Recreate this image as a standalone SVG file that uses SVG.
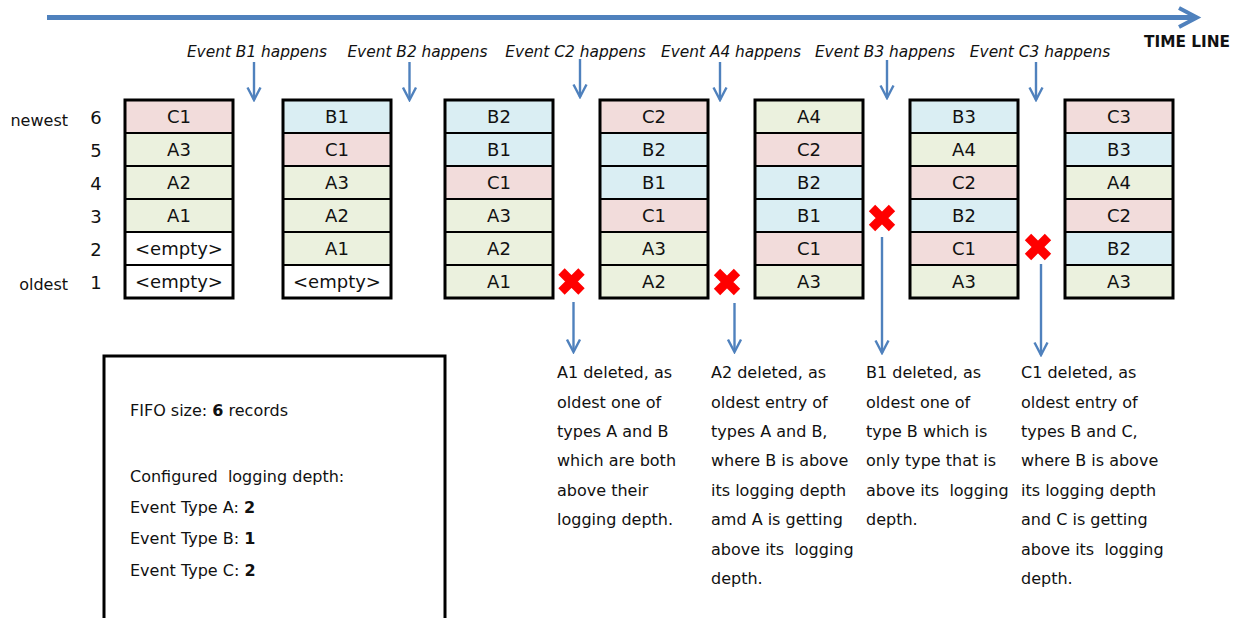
<svg xmlns="http://www.w3.org/2000/svg" width="1240" height="618" viewBox="0 0 1240 618">
<defs>
<marker id="arr" viewBox="0 0 16 16" refX="14" refY="8" markerWidth="16" markerHeight="16" markerUnits="userSpaceOnUse" orient="auto">
<path d="M1.5,1.5 L14,8 L1.5,14.5" fill="none" stroke="#4f81bd" stroke-width="2.4"/>
</marker>
<g id="xmark"><path d="M-10,-10 L10,10 M-10,10 L10,-10" stroke="#ff0000" stroke-width="9"/></g>
</defs>
<style>
text{font-family:"DejaVu Sans","Liberation Sans",sans-serif;fill:#111;white-space:pre}
.ev{font-size:15.4px;font-style:italic;text-anchor:middle}
.cell{font-size:18px;text-anchor:middle}
.lbl{font-size:16px}
.num{font-size:18px;text-anchor:middle}
.body{font-size:16px}
.p{fill:#f2dcdb}.g{fill:#ebf1de}.b{fill:#daeef3}.w{fill:#ffffff}
.frame{fill:none;stroke:#000;stroke-width:3}
.div{stroke:#000;stroke-width:2}
.conn{stroke:#4f81bd;stroke-width:2.4;fill:none}
</style>

<g id="timeline">
<line x1="47" y1="17.5" x2="1195" y2="17.5" stroke="#4f81bd" stroke-width="5"/>
<polyline points="1179,8 1197,17.5 1179,27" fill="none" stroke="#4f81bd" stroke-width="4"/>
<text x="1187" y="47" font-size="16" font-weight="bold" text-anchor="middle" textLength="86" lengthAdjust="spacingAndGlyphs">TIME LINE</text>
</g>

<g id="event-labels">
<text class="ev" x="257" y="57">Event B1 happens</text>
<text class="ev" x="417.5" y="57">Event B2 happens</text>
<text class="ev" x="575.5" y="57">Event C2 happens</text>
<text class="ev" x="731" y="57">Event A4 happens</text>
<text class="ev" x="885" y="57">Event B3 happens</text>
<text class="ev" x="1040" y="57">Event C3 happens</text>
</g>

<g id="row-labels">
<text class="lbl" x="68" y="126" text-anchor="end">newest</text>
<text class="lbl" x="68" y="290" text-anchor="end">oldest</text>
<text class="num" x="96" y="124">6</text>
<text class="num" x="96" y="157">5</text>
<text class="num" x="96" y="190">4</text>
<text class="num" x="96" y="223">3</text>
<text class="num" x="96" y="256">2</text>
<text class="num" x="96" y="289">1</text>
</g>

<g id="fifo1" transform="translate(125,100)">
<rect class="p" x="0" y="0" width="108" height="33"/><rect class="g" x="0" y="33" width="108" height="33"/><rect class="g" x="0" y="66" width="108" height="33"/><rect class="g" x="0" y="99" width="108" height="33"/><rect class="w" x="0" y="132" width="108" height="33"/><rect class="w" x="0" y="165" width="108" height="33"/>
<path class="div" d="M0,33H108M0,66H108M0,99H108M0,132H108M0,165H108"/>
<rect class="frame" x="0" y="0" width="108" height="198"/>
<text class="cell" x="54" y="23">C1</text><text class="cell" x="54" y="56">A3</text><text class="cell" x="54" y="89">A2</text><text class="cell" x="54" y="122">A1</text><text class="cell" x="54" y="155">&lt;empty&gt;</text><text class="cell" x="54" y="188">&lt;empty&gt;</text>
</g>

<g id="fifo2" transform="translate(283,100)">
<rect class="b" x="0" y="0" width="108" height="33"/><rect class="p" x="0" y="33" width="108" height="33"/><rect class="g" x="0" y="66" width="108" height="33"/><rect class="g" x="0" y="99" width="108" height="33"/><rect class="g" x="0" y="132" width="108" height="33"/><rect class="w" x="0" y="165" width="108" height="33"/>
<path class="div" d="M0,33H108M0,66H108M0,99H108M0,132H108M0,165H108"/>
<rect class="frame" x="0" y="0" width="108" height="198"/>
<text class="cell" x="54" y="23">B1</text><text class="cell" x="54" y="56">C1</text><text class="cell" x="54" y="89">A3</text><text class="cell" x="54" y="122">A2</text><text class="cell" x="54" y="155">A1</text><text class="cell" x="54" y="188">&lt;empty&gt;</text>
</g>

<g id="fifo3" transform="translate(445,100)">
<rect class="b" x="0" y="0" width="108" height="33"/><rect class="b" x="0" y="33" width="108" height="33"/><rect class="p" x="0" y="66" width="108" height="33"/><rect class="g" x="0" y="99" width="108" height="33"/><rect class="g" x="0" y="132" width="108" height="33"/><rect class="g" x="0" y="165" width="108" height="33"/>
<path class="div" d="M0,33H108M0,66H108M0,99H108M0,132H108M0,165H108"/>
<rect class="frame" x="0" y="0" width="108" height="198"/>
<text class="cell" x="54" y="23">B2</text><text class="cell" x="54" y="56">B1</text><text class="cell" x="54" y="89">C1</text><text class="cell" x="54" y="122">A3</text><text class="cell" x="54" y="155">A2</text><text class="cell" x="54" y="188">A1</text>
</g>

<g id="fifo4" transform="translate(600,100)">
<rect class="p" x="0" y="0" width="108" height="33"/><rect class="b" x="0" y="33" width="108" height="33"/><rect class="b" x="0" y="66" width="108" height="33"/><rect class="p" x="0" y="99" width="108" height="33"/><rect class="g" x="0" y="132" width="108" height="33"/><rect class="g" x="0" y="165" width="108" height="33"/>
<path class="div" d="M0,33H108M0,66H108M0,99H108M0,132H108M0,165H108"/>
<rect class="frame" x="0" y="0" width="108" height="198"/>
<text class="cell" x="54" y="23">C2</text><text class="cell" x="54" y="56">B2</text><text class="cell" x="54" y="89">B1</text><text class="cell" x="54" y="122">C1</text><text class="cell" x="54" y="155">A3</text><text class="cell" x="54" y="188">A2</text>
</g>

<g id="fifo5" transform="translate(755,100)">
<rect class="g" x="0" y="0" width="108" height="33"/><rect class="p" x="0" y="33" width="108" height="33"/><rect class="b" x="0" y="66" width="108" height="33"/><rect class="b" x="0" y="99" width="108" height="33"/><rect class="p" x="0" y="132" width="108" height="33"/><rect class="g" x="0" y="165" width="108" height="33"/>
<path class="div" d="M0,33H108M0,66H108M0,99H108M0,132H108M0,165H108"/>
<rect class="frame" x="0" y="0" width="108" height="198"/>
<text class="cell" x="54" y="23">A4</text><text class="cell" x="54" y="56">C2</text><text class="cell" x="54" y="89">B2</text><text class="cell" x="54" y="122">B1</text><text class="cell" x="54" y="155">C1</text><text class="cell" x="54" y="188">A3</text>
</g>

<g id="fifo6" transform="translate(910,100)">
<rect class="b" x="0" y="0" width="108" height="33"/><rect class="g" x="0" y="33" width="108" height="33"/><rect class="p" x="0" y="66" width="108" height="33"/><rect class="b" x="0" y="99" width="108" height="33"/><rect class="p" x="0" y="132" width="108" height="33"/><rect class="g" x="0" y="165" width="108" height="33"/>
<path class="div" d="M0,33H108M0,66H108M0,99H108M0,132H108M0,165H108"/>
<rect class="frame" x="0" y="0" width="108" height="198"/>
<text class="cell" x="54" y="23">B3</text><text class="cell" x="54" y="56">A4</text><text class="cell" x="54" y="89">C2</text><text class="cell" x="54" y="122">B2</text><text class="cell" x="54" y="155">C1</text><text class="cell" x="54" y="188">A3</text>
</g>

<g id="fifo7" transform="translate(1065,100)">
<rect class="p" x="0" y="0" width="108" height="33"/><rect class="b" x="0" y="33" width="108" height="33"/><rect class="g" x="0" y="66" width="108" height="33"/><rect class="p" x="0" y="99" width="108" height="33"/><rect class="b" x="0" y="132" width="108" height="33"/><rect class="g" x="0" y="165" width="108" height="33"/>
<path class="div" d="M0,33H108M0,66H108M0,99H108M0,132H108M0,165H108"/>
<rect class="frame" x="0" y="0" width="108" height="198"/>
<text class="cell" x="54" y="23">C3</text><text class="cell" x="54" y="56">B3</text><text class="cell" x="54" y="89">A4</text><text class="cell" x="54" y="122">C2</text><text class="cell" x="54" y="155">B2</text><text class="cell" x="54" y="188">A3</text>
</g>

<g id="deletions">
<use href="#xmark" x="571.5" y="281.5"/>
<use href="#xmark" x="727" y="282"/>
<use href="#xmark" x="882" y="218"/>
<use href="#xmark" x="1038" y="247"/>
</g>

<g id="connectors">
<line class="conn" x1="254" y1="62" x2="254" y2="100" marker-end="url(#arr)"/>
<line class="conn" x1="409.5" y1="62" x2="409.5" y2="100" marker-end="url(#arr)"/>
<line class="conn" x1="580" y1="59" x2="580" y2="97" marker-end="url(#arr)"/>
<line class="conn" x1="720" y1="62" x2="720" y2="100" marker-end="url(#arr)"/>
<line class="conn" x1="887" y1="60" x2="887" y2="98" marker-end="url(#arr)"/>
<line class="conn" x1="1036" y1="62" x2="1036" y2="100" marker-end="url(#arr)"/>
<line class="conn" x1="573.5" y1="302" x2="573.5" y2="352" marker-end="url(#arr)"/>
<line class="conn" x1="734.5" y1="303" x2="734.5" y2="352" marker-end="url(#arr)"/>
<line class="conn" x1="882" y1="237" x2="882" y2="353" marker-end="url(#arr)"/>
<line class="conn" x1="1041" y1="264" x2="1041" y2="355" marker-end="url(#arr)"/>
</g>

<g id="note1">
<text class="body" x="557" y="378">A1 deleted, as</text>
<text class="body" x="557" y="407.5">oldest one of</text>
<text class="body" x="557" y="437">types A and B</text>
<text class="body" x="557" y="466">which are both</text>
<text class="body" x="557" y="495.5">above their</text>
<text class="body" x="557" y="525">logging depth.</text>
</g>
<g id="note2">
<text class="body" x="711" y="378">A2 deleted, as</text>
<text class="body" x="711" y="407.5">oldest entry of</text>
<text class="body" x="711" y="437">types A and B,</text>
<text class="body" x="711" y="466">where B is above</text>
<text class="body" x="711" y="495.5">its logging depth</text>
<text class="body" x="711" y="525">amd A is getting</text>
<text class="body" x="711" y="554.5" xml:space="preserve">above its  logging</text>
<text class="body" x="711" y="584">depth.</text>
</g>
<g id="note3">
<text class="body" x="866" y="378">B1 deleted, as</text>
<text class="body" x="866" y="407.5">oldest one of</text>
<text class="body" x="866" y="437">type B which is</text>
<text class="body" x="866" y="466">only type that is</text>
<text class="body" x="866" y="495.5" xml:space="preserve">above its  logging</text>
<text class="body" x="866" y="525">depth.</text>
</g>
<g id="note4">
<text class="body" x="1021" y="378">C1 deleted, as</text>
<text class="body" x="1021" y="407.5">oldest entry of</text>
<text class="body" x="1021" y="437">types B and C,</text>
<text class="body" x="1021" y="466">where B is above</text>
<text class="body" x="1021" y="495.5">its logging depth</text>
<text class="body" x="1021" y="525">and C is getting</text>
<text class="body" x="1021" y="554.5" xml:space="preserve">above its  logging</text>
<text class="body" x="1021" y="584">depth.</text>
</g>

<g id="config-box">
<rect x="104" y="356" width="341" height="270" fill="#fff" stroke="#000" stroke-width="3"/>
<text class="body" x="130" y="416" xml:space="preserve">FIFO size: <tspan font-weight="bold">6</tspan> records</text>
<text class="body" x="130" y="482" xml:space="preserve">Configured  logging depth:</text>
<text class="body" x="130" y="513">Event Type A: <tspan font-weight="bold">2</tspan></text>
<text class="body" x="130" y="544">Event Type B: <tspan font-weight="bold">1</tspan></text>
<text class="body" x="130" y="576">Event Type C: <tspan font-weight="bold">2</tspan></text>
</g>
</svg>
